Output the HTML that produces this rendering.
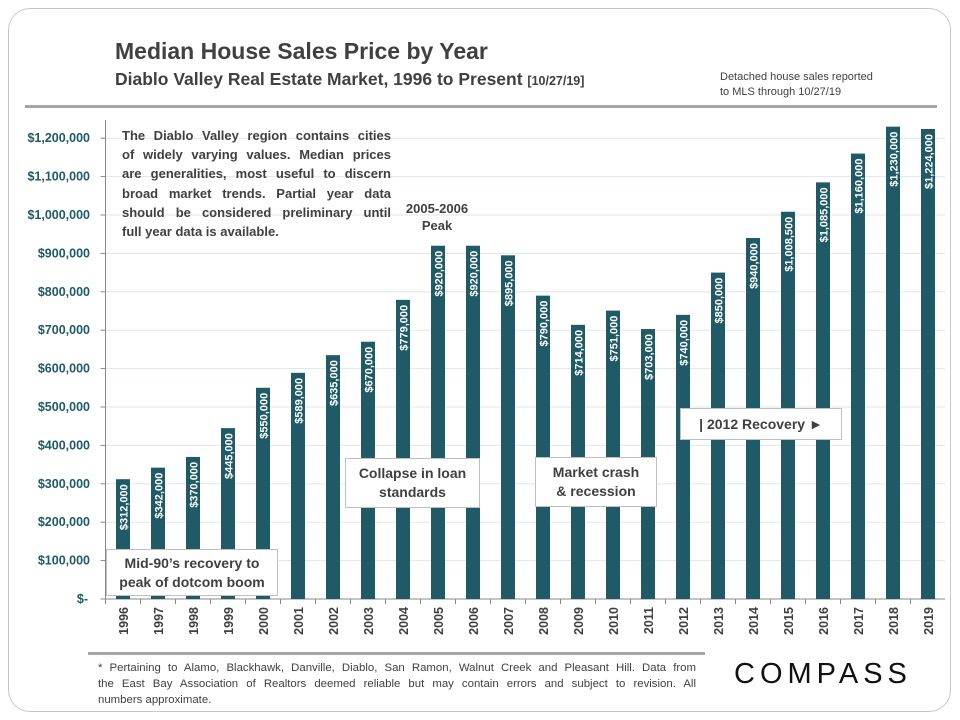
<!DOCTYPE html>
<html><head><meta charset="utf-8"><style>
body{margin:0;background:#fff;font-family:"Liberation Sans",sans-serif;}
#wrap{position:relative;width:960px;height:720px;overflow:hidden;}
.t{position:absolute;color:#404040;font-weight:bold;}
.box{position:absolute;background:#fff;border:1px solid #bfbfbf;color:#404040;font-weight:bold;font-size:14px;text-align:center;line-height:19px;}
.jl{text-align:justify;text-align-last:justify;white-space:nowrap;}
</style></head><body>
<div id="wrap">
<div style="position:absolute;left:8px;top:8px;width:941px;height:702px;border:1px solid #c8c8c8;border-radius:22px;"></div>
<div class="t" style="left:115px;top:38px;font-size:23px;">Median House Sales Price by Year</div>
<div class="t" style="left:115px;top:69px;font-size:17.5px;">Diablo Valley Real Estate Market, 1996 to Present <span style="font-size:12.5px">[10/27/19]</span></div>
<div class="t" style="left:720px;top:70px;font-size:11px;font-weight:normal;line-height:15px;">Detached house sales reported<br>to MLS through 10/27/19</div>
<div style="position:absolute;left:25px;top:105px;width:912px;height:3px;background:#a6a6a6;"></div>
<svg id="chart" width="960" height="720" style="position:absolute;left:0;top:0"></svg>
<div class="t" style="left:122px;top:126px;width:269px;font-size:13px;line-height:19.2px;">
<div class="jl">The Diablo Valley region contains cities</div>
<div class="jl">of widely varying values. Median prices</div>
<div class="jl">are generalities, most useful to discern</div>
<div class="jl">broad market trends. Partial year data</div>
<div class="jl">should be considered preliminary until</div>
<div>full year data is available.</div>
</div>
<div class="t" style="left:405px;top:200px;width:64px;font-size:13px;text-align:center;line-height:17px;">2005-2006 Peak</div>
<div class="box" style="left:106px;top:549px;width:170px;height:45px;display:flex;align-items:center;justify-content:center;">Mid-90’s recovery to<br>peak of dotcom boom</div>
<div class="box" style="left:345px;top:458px;width:133px;height:48px;display:flex;align-items:center;justify-content:center;">Collapse in loan<br>standards</div>
<div class="box" style="left:535px;top:457px;width:120px;height:48px;display:flex;align-items:center;justify-content:center;">Market crash<br>&amp; recession</div>
<div class="box" style="left:680px;top:408px;width:160px;height:30px;display:flex;align-items:center;justify-content:center;">| 2012 Recovery ►</div>
<div style="position:absolute;left:88px;top:652px;width:617px;height:3px;background:#a6a6a6;"></div>
<div style="position:absolute;left:98px;top:660px;width:598px;font-size:11.4px;color:#404040;line-height:16px;">
<div class="jl">* Pertaining to Alamo, Blackhawk, Danville, Diablo, San Ramon, Walnut Creek and Pleasant Hill. Data from</div>
<div class="jl">the East Bay Association of Realtors deemed reliable but may contain errors and subject to revision. All</div>
<div>numbers approximate.</div>
</div>
<div style="position:absolute;left:734px;top:658px;font-size:29px;letter-spacing:5px;color:#111;">COMPASS</div>
</div>
<script>
const years=["1996","1997","1998","1999","2000","2001","2002","2003","2004","2005","2006","2007","2008","2009","2010","2011","2012","2013","2014","2015","2016","2017","2018","2019"];
const prices=[312000,342000,370000,445000,550000,589000,635000,670000,779000,920000,920000,895000,790000,714000,751000,703000,740000,850000,940000,1008500,1085000,1160000,1230000,1224000];
const yTicks=[0,100000,200000,300000,400000,500000,600000,700000,800000,900000,1000000,1100000,1200000];
const NS="http://www.w3.org/2000/svg";
const svg=document.getElementById('chart');
const x0=105.5,step=35,y0=599,ppv=38.4/100000;
const y=v=>y0-v*ppv;
const xc=i=>x0+step*(i+0.5);
function mk(t,a){const e=document.createElementNS(NS,t);for(const k in a)e.setAttribute(k,a[k]);svg.appendChild(e);return e;}
const fmt=v=>v===0?"$-":"$"+v.toLocaleString('en-US');
yTicks.forEach(v=>{
 if(v>0){const g=mk('line',{x1:x0,x2:945,y1:y(v),y2:y(v),stroke:'#dde8ea','stroke-width':1});
 
 }
 const tk=mk('line',{x1:x0-5,x2:x0,y1:y(v),y2:y(v),stroke:'#888'});
 
 
 const t=mk('text',{x:v===0?88:90,y:y(v)+4,'text-anchor':'end','font-size':12.5,'font-weight':'bold',fill:'#1f5a66','font-family':'Liberation Sans'});
 t.textContent=fmt(v);
 
 
});
const ax=mk('line',{x1:x0,x2:x0,y1:120,y2:y0,stroke:'#888'});


const xa=mk('line',{x1:x0,x2:945,y1:y0,y2:y0,stroke:'#888'});


years.forEach((yr,i)=>{
 const xx=x0+step*i;
 const tk=mk('line',{x1:xx,x2:xx,y1:y0,y2:y0+5,stroke:'#888'});
 
 
 const b=mk('rect',{x:xc(i)-7,y:y(prices[i]),width:14,height:prices[i]*ppv,fill:'#1f5a66'});
 
 
 const lx=xc(i)+4.5,ly=y(prices[i])+5;
 const l=mk('text',{x:lx,y:ly,transform:`rotate(-90 ${lx} ${ly})`,'text-anchor':'end','font-size':11,'font-weight':'bold',fill:'#fff','font-family':'Liberation Sans'});
 l.textContent=fmt(prices[i]);
 
 
 const tx=xc(i)+5,ty=607;
 const t=mk('text',{x:tx,y:ty,transform:`rotate(-90 ${tx} ${ty})`,'text-anchor':'end','font-size':12.5,'font-weight':'bold',fill:'#404040','font-family':'Liberation Sans'});
 t.textContent=yr;
 
 
});
</script>
</body></html>
